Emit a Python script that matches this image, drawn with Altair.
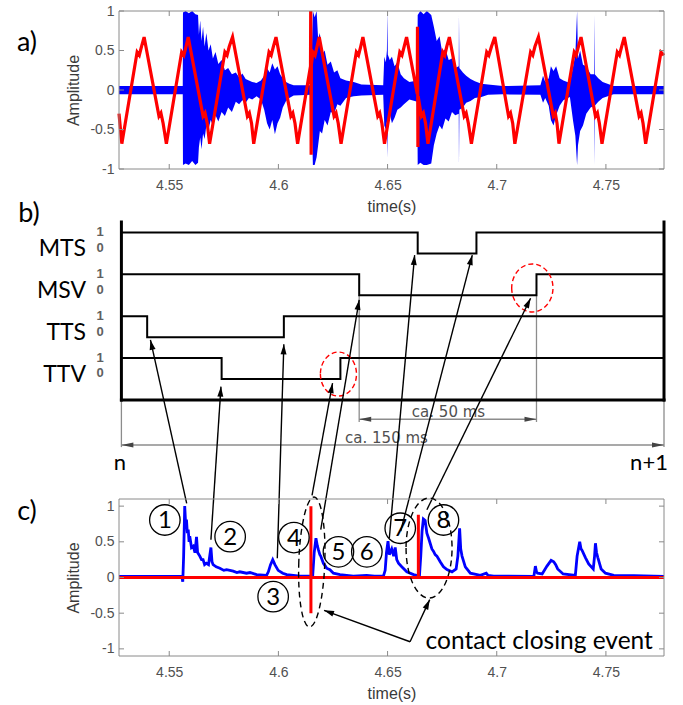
import math
import altair as alt
import pandas as pd

W, H = 683, 705

# ---------------- shared axis values ----------------
TIME_TICKS = [4.55, 4.6, 4.65, 4.7, 4.75]
AMP_TICKS = [-1, -0.5, 0, 0.5, 1]
T_RANGE = [4.527, 4.7766]

# ---------------- panel a : red reference wave (t, value) ----------------
A_RED = [
    (4.5270, -0.30), (4.5283, -0.68),
    (4.5353, 0.48), (4.5363, 0.44), (4.5373, 0.55), (4.5385, 0.67),
    (4.5453, -0.33), (4.5462, -0.29), (4.5472, -0.42), (4.5487, -0.68),
    (4.5557, 0.48), (4.5567, 0.44), (4.5577, 0.55), (4.5587, 0.67),
    (4.5655, -0.33), (4.5664, -0.29), (4.5674, -0.42), (4.5685, -0.68),
    (4.5755, 0.48), (4.5765, 0.44), (4.5775, 0.55), (4.5790, 0.67),
    (4.5858, -0.33), (4.5867, -0.29), (4.5877, -0.42), (4.5887, -0.68),
    (4.5957, 0.48), (4.5967, 0.44), (4.5977, 0.55), (4.5989, 0.67),
    (4.6057, -0.33), (4.6066, -0.29), (4.6076, -0.42), (4.6088, -0.68),
    (4.6147, 0.30), (4.6148, 1.00), (4.6150, -0.82), (4.6151, 0.32),
    (4.6158, 0.48), (4.6168, 0.44), (4.6177, 0.55), (4.6187, 0.67),
    (4.6255, -0.33), (4.6264, -0.29), (4.6274, -0.42), (4.6287, -0.68),
    (4.6357, 0.48), (4.6367, 0.44), (4.6377, 0.55), (4.6387, 0.67),
    (4.6455, -0.33), (4.6464, -0.29), (4.6474, -0.42), (4.6486, -0.68),
    (4.6556, 0.48), (4.6566, 0.44), (4.6576, 0.55), (4.6587, 0.67),
    (4.6636, -0.05), (4.6637, 0.80), (4.6639, -0.72), (4.6640, -0.08),
    (4.6655, -0.33), (4.6664, -0.29), (4.6674, -0.42), (4.6685, -0.68),
    (4.6753, 0.48), (4.6762, 0.44), (4.6771, 0.55), (4.6783, 0.67),
    (4.6851, -0.33), (4.6860, -0.29), (4.6870, -0.42), (4.6884, -0.68),
    (4.6954, 0.48), (4.6964, 0.44), (4.6976, 0.55), (4.6991, 0.67),
    (4.7054, -0.33), (4.7063, -0.29), (4.7073, -0.42), (4.7083, -0.68),
    (4.7155, 0.48), (4.7165, 0.44), (4.7175, 0.55), (4.7191, 0.67),
    (4.7259, -0.33), (4.7268, -0.29), (4.7276, -0.42), (4.7285, -0.68),
    (4.7355, 0.48), (4.7364, 0.44), (4.7374, 0.55), (4.7386, 0.67),
    (4.7452, -0.33), (4.7461, -0.29), (4.7470, -0.42), (4.7482, -0.68),
    (4.7552, 0.48), (4.7562, 0.44), (4.7572, 0.55), (4.7584, 0.67),
    (4.7652, -0.33), (4.7661, -0.29), (4.7670, -0.42), (4.7682, -0.68),
    (4.7752, 0.48), (4.7766, 0.44),
]

# ---------------- panel a : blue vibration envelope (t, upper, lower) ----------------
A_BLUE = [
    (4.5270, 0.05, -0.055), (4.5562, 0.05, -0.055), (4.5563, 0.98, -0.95),
    (4.5575, 1.00, -0.93), (4.5590, 0.97, -0.95), (4.5605, 1.00, -0.90),
    (4.5620, 0.96, -0.95), (4.5632, 0.95, -0.92), (4.5636, 0.70, -0.72),
    (4.5642, 0.88, -0.60), (4.5648, 0.62, -0.75), (4.5655, 0.80, -0.55),
    (4.5662, 0.55, -0.62), (4.5670, 0.72, -0.45), (4.5680, 0.50, -0.50),
    (4.5690, 0.58, -0.38), (4.5700, 0.40, -0.45), (4.5712, 0.48, -0.32),
    (4.5725, 0.33, -0.40), (4.5740, 0.38, -0.28), (4.5755, 0.25, -0.33),
    (4.5770, 0.28, -0.22), (4.5787, 0.20, -0.28), (4.5805, 0.22, -0.15),
    (4.5820, 0.16, -0.18), (4.5835, 0.21, -0.13), (4.5850, 0.14, -0.16),
    (4.5865, 0.12, -0.10), (4.5880, 0.10, -0.12), (4.5900, 0.09, -0.08),
    (4.5920, 0.12, -0.12), (4.5935, 0.18, -0.25), (4.5948, 0.28, -0.42),
    (4.5960, 0.22, -0.50), (4.5972, 0.34, -0.38), (4.5984, 0.26, -0.56),
    (4.5996, 0.30, -0.42), (4.6008, 0.20, -0.35), (4.6020, 0.15, -0.22),
    (4.6035, 0.10, -0.14), (4.6050, 0.08, -0.10), (4.6070, 0.06, -0.07),
    (4.6150, 0.06, -0.06), (4.6155, 0.70, -0.60), (4.6158, 1.00, -0.95),
    (4.6166, 0.92, -0.95), (4.6175, 1.00, -0.85), (4.6182, 0.65, -0.70),
    (4.6190, 0.72, -0.52), (4.6200, 0.45, -0.55), (4.6212, 0.50, -0.38),
    (4.6225, 0.32, -0.45), (4.6240, 0.36, -0.28), (4.6255, 0.22, -0.30),
    (4.6270, 0.25, -0.18), (4.6284, 0.15, -0.20), (4.6310, 0.12, -0.10),
    (4.6345, 0.10, -0.08), (4.6380, 0.07, -0.07), (4.6480, 0.06, -0.06),
    (4.6485, 0.42, -0.45), (4.6492, 0.35, -0.50), (4.6497, 0.50, -0.40),
    (4.6499, 1.00, -0.85), (4.6501, 0.45, -0.48), (4.6510, 0.38, -0.30),
    (4.6520, 0.42, -0.42), (4.6532, 0.30, -0.35), (4.6545, 0.35, -0.25),
    (4.6560, 0.20, -0.22), (4.6575, 0.15, -0.18), (4.6600, 0.10, -0.12),
    (4.6636, 0.12, -0.15), (4.6638, 0.95, -0.95), (4.6650, 1.00, -0.92),
    (4.6665, 0.96, -0.95), (4.6680, 1.00, -0.95), (4.6700, 0.95, -0.93),
    (4.6712, 0.80, -0.70), (4.6725, 0.62, -0.55), (4.6738, 0.68, -0.45),
    (4.6750, 0.48, -0.50), (4.6765, 0.52, -0.36), (4.6780, 0.38, -0.40),
    (4.6795, 0.40, -0.28), (4.6810, 0.28, -0.32), (4.6826, 0.30, -0.30),
    (4.6827, 0.95, -0.95), (4.6829, 0.28, -0.25), (4.6845, 0.22, -0.22),
    (4.6860, 0.18, -0.16), (4.6880, 0.14, -0.14), (4.6900, 0.11, -0.10),
    (4.6930, 0.08, -0.09), (4.6960, 0.07, -0.06), (4.7028, 0.05, -0.055),
    (4.7200, 0.06, -0.06), (4.7212, 0.18, -0.16), (4.7222, 0.10, -0.10),
    (4.7238, 0.15, -0.20), (4.7248, 0.30, -0.38), (4.7260, 0.24, -0.45),
    (4.7272, 0.30, -0.32), (4.7288, 0.15, -0.20), (4.7305, 0.12, -0.13),
    (4.7335, 0.09, -0.09), (4.7350, 0.30, -0.40), (4.7360, 0.45, -0.58),
    (4.7368, 1.00, -0.95), (4.7372, 0.40, -0.70), (4.7382, 0.50, -0.52),
    (4.7395, 0.32, -0.45), (4.7410, 0.30, -0.30), (4.7430, 0.20, -0.22),
    (4.7446, 0.20, -0.20), (4.7447, 0.95, -0.95), (4.7449, 0.20, -0.20),
    (4.7465, 0.15, -0.15), (4.7485, 0.10, -0.10), (4.7535, 0.05, -0.055),
    (4.7766, 0.05, -0.055),
]

# ---------------- panel b : timing diagram ----------------
SIG_NAMES = ["MTS", "MSV", "TTS", "TTV"]
SIG_LOW = [7, 5, 3, 1]                       # level "0"; level "1" is one unit higher
SIG_FALL = [4.6638, 4.6370, 4.5399, 4.5740]  # 1 -> 0 edge (s)
SIG_RISE = [4.6907, 4.7182, 4.6025, 4.6284]  # 0 -> 1 edge (s)
B_EDGES = [4.5281, 4.7766]                   # cycle n ... n+1
B_TOP = 8.5
SPAN50 = [4.6370, 4.7182]
SPAN_TEXT = ["ca. 50 ms", "ca. 150 ms"]
SPAN_TEXT_T = [4.6779, 4.6495]
SPAN_TEXT_Y = [-0.57, -1.81]
SPAN_Y = [-0.92, -2.15]
RED_RING_T = [4.6275, 4.7163]
RED_RING_Y = [1.24, 5.35]

# arrows: start on panel c (time, amplitude) -> end on panel b (time, level units)
ARR_FROM_T = [4.5580, 4.5691, 4.5995, 4.6154, 4.6194, 4.6508, 4.6560, 4.6680]
ARR_FROM_A = [1.04, 0.53, 0.27, 1.15, 0.67, 0.55, 0.65, 0.95]
ARR_TO_T = [4.5414, 4.5737, 4.6025, 4.6248, 4.6370, 4.6624, 4.6888, 4.7155]
ARR_TO_Y = [2.87, 0.64, 2.66, 0.80, 4.78, 6.92, 6.92, 4.86]

# ---------------- panel c : acoustic envelope (t, value) ----------------
C_BLUE = [
    (4.5270, 0.015), (4.5558, 0.015), (4.5562, -0.06), (4.5566, 0.30), (4.5571, 1.00),
    (4.5576, 0.70), (4.5579, 0.81), (4.5583, 0.62), (4.5587, 0.67), (4.5591, 0.50),
    (4.5594, 0.58), (4.5602, 0.42), (4.5610, 0.44), (4.5618, 0.35), (4.5625, 0.57),
    (4.5630, 0.35), (4.5640, 0.30), (4.5648, 0.25), (4.5655, 0.25), (4.5662, 0.18),
    (4.5670, 0.20), (4.5680, 0.18), (4.5691, 0.42), (4.5696, 0.22), (4.5701, 0.18),
    (4.5715, 0.15), (4.5732, 0.13), (4.5750, 0.10), (4.5763, 0.11), (4.5793, 0.09),
    (4.5810, 0.07), (4.5823, 0.08), (4.5854, 0.06), (4.5870, 0.07), (4.5900, 0.04),
    (4.5946, 0.03), (4.5954, 0.08), (4.5964, 0.18), (4.5974, 0.25), (4.5984, 0.18),
    (4.5999, 0.10), (4.6020, 0.06), (4.6038, 0.04), (4.6099, 0.02), (4.6157, 0.02),
    (4.6164, 0.35), (4.6172, 0.55), (4.6178, 0.45), (4.6183, 0.39), (4.6190, 0.32),
    (4.6194, 0.30), (4.6206, 0.20), (4.6215, 0.16), (4.6221, 0.13), (4.6236, 0.11),
    (4.6252, 0.06), (4.6282, 0.04), (4.6343, 0.02), (4.6404, 0.03), (4.6440, 0.02),
    (4.6481, 0.02), (4.6489, 0.10), (4.6495, 0.35), (4.6502, 0.51), (4.6508, 0.32),
    (4.6519, 0.40), (4.6528, 0.30), (4.6535, 0.42), (4.6542, 0.25), (4.6550, 0.20),
    (4.6565, 0.15), (4.6588, 0.08), (4.6619, 0.04), (4.6646, 0.02), (4.6652, 0.30),
    (4.6658, 0.65), (4.6664, 0.82), (4.6672, 0.80), (4.6680, 0.62), (4.6688, 0.55),
    (4.6695, 0.48), (4.6703, 0.40), (4.6710, 0.37), (4.6718, 0.32), (4.6726, 0.30),
    (4.6741, 0.22), (4.6756, 0.15), (4.6772, 0.11), (4.6795, 0.08), (4.6814, 0.12),
    (4.6822, 0.30), (4.6830, 0.69), (4.6835, 0.40), (4.6841, 0.30), (4.6856, 0.15),
    (4.6879, 0.06), (4.6925, 0.03), (4.6952, 0.06), (4.6960, 0.03), (4.6986, 0.02),
    (4.7170, 0.015), (4.7177, 0.16), (4.7182, 0.08), (4.7187, 0.06), (4.7208, 0.05),
    (4.7230, 0.16), (4.7249, 0.24), (4.7261, 0.22), (4.7270, 0.18), (4.7279, 0.12),
    (4.7304, 0.05), (4.7360, 0.03), (4.7368, 0.30), (4.7380, 0.50), (4.7386, 0.40),
    (4.7391, 0.38), (4.7406, 0.28), (4.7421, 0.19), (4.7442, 0.12), (4.7448, 0.30),
    (4.7452, 0.48), (4.7457, 0.35), (4.7463, 0.28), (4.7478, 0.12), (4.7498, 0.06),
    (4.7536, 0.03), (4.7628, 0.025), (4.7766, 0.015),
]
C_RED = [
    (4.5270, 0.0), (4.6149, 0.0), (4.6149, 1.00), (4.6149, -0.50), (4.6149, 0.0),
    (4.6641, 0.0), (4.6641, 0.88), (4.6641, 0.0), (4.7766, 0.0),
]
MARK_LABELS = ["1", "2", "3", "4", "5", "6", "7", "8"]
MARK_T = [4.5480, 4.5779, 4.5976, 4.6071, 4.6275, 4.6405, 4.6558, 4.6756]
MARK_A = [0.806, 0.572, -0.269, 0.56, 0.36, 0.36, 0.69, 0.806]
RING_T = [4.6153, 4.6690]
RING_A = [0.217, 0.413]
EVENT_FROM_T, EVENT_FROM_A = 4.6603, -0.90
EVENT_TO_T = [4.6209, 4.6693]
EVENT_TO_A = [-0.46, -0.31]
EVENT_TEXT = "contact closing event"
EVENT_TEXT_T, EVENT_TEXT_A = 4.6674, -0.91

# ---------------- layout (pixels) ----------------
X_PX = [119, 664]
A_DOM, A_PX = [-1, 1], [169, 11]
B_DOM, B_PX = [0, 8.5], [400, 222]
C_DOM, C_PX = [-1.1, 1.1], [656, 499]
FRAME = "#8a8a8a"
BLUE, RED = "#0000ff", "#ff0000"
TXT_FONT = "Lato"
ARROW_PATH = "M0,0L-0.3,1L0.3,1Z"
DIM_ARROW_PATH = "M0,0L-0.2,1L0.2,1Z"


def ellipse_path(rx):
    return f"M {-rx} 0 A {rx} 1 0 1 0 {rx} 0 A {rx} 1 0 1 0 {-rx} 0 Z"


def lin(v, dom, rng):
    return rng[0] + (v - dom[0]) / (dom[1] - dom[0]) * (rng[1] - rng[0])


def inv(p, dom, rng):
    return dom[0] + (p - rng[0]) / (rng[1] - rng[0]) * (dom[1] - dom[0])


def heading(x0, y0, x1, y1):
    return math.degrees(math.atan2(x1 - x0, -(y1 - y0))) % 360


def sx():
    return alt.Scale(domain=T_RANGE, range=X_PX, nice=False, zero=False)


def sy(dom, rng):
    return alt.Scale(domain=dom, range=rng, nice=False, zero=False)


SA, SB, SC = (A_DOM, A_PX), (B_DOM, B_PX), (C_DOM, C_PX)


def ex(f, axis=None):
    return alt.X(f, type="quantitative", scale=sx(), axis=axis)


def ey(f, s, axis=None):
    return alt.Y(f, type="quantitative", scale=sy(*s), axis=axis)


AX = dict(grid=False, domain=False, ticks=False, tickSize=0,
          labelFont="Liberation Sans", labelFontSize=14, labelColor="#505050",
          titleFont="Liberation Sans", titleFontSize=16, titleColor="#3a3a3a",
          titleFontWeight="normal", labelExpr="'' + datum.value")

layers = []


def panel_box(s, ylo, yhi, bottom_px):
    df = pd.DataFrame({"x0": [T_RANGE[0]], "x1": [T_RANGE[1]], "y0": [ylo], "y1": [yhi]})
    xa = alt.Axis(orient="bottom", offset=bottom_px - H, values=TIME_TICKS,
                  title="time(s)", labelPadding=9, titlePadding=6, **AX)
    ya = alt.Axis(orient="left", offset=-X_PX[0], values=AMP_TICKS,
                  title="Amplitude", labelPadding=5, titlePadding=8, **AX)
    out = [alt.Chart(df).mark_rect(fillOpacity=0, stroke=FRAME, strokeWidth=1).encode(
        x=ex("x0", xa), x2="x1", y=ey("y0", s, ya), y2="y1")]
    dl = pd.DataFrame({"x": [T_RANGE[0]] * len(AMP_TICKS), "y": AMP_TICKS})
    dr = pd.DataFrame({"x": [T_RANGE[1]] * len(AMP_TICKS), "y": AMP_TICKS})
    db = pd.DataFrame({"x": TIME_TICKS, "y": [ylo] * len(TIME_TICKS)})
    dt = pd.DataFrame({"x": TIME_TICKS, "y": [yhi] * len(TIME_TICKS)})
    out.append(alt.Chart(dl).mark_rule(color=FRAME, x2Offset=5).encode(x=ex("x"), x2="x", y=ey("y", s)))
    out.append(alt.Chart(dr).mark_rule(color=FRAME, x2Offset=-5).encode(x=ex("x"), x2="x", y=ey("y", s)))
    out.append(alt.Chart(db).mark_rule(color=FRAME, y2Offset=-5).encode(x=ex("x"), y=ey("y", s), y2="y"))
    out.append(alt.Chart(dt).mark_rule(color=FRAME, y2Offset=5).encode(x=ex("x"), y=ey("y", s), y2="y"))
    return out


def ring(t, y, s, rx, height, color, dash, angle=0):
    df = pd.DataFrame({"t": [t], "y": [y]})
    return alt.Chart(df).mark_point(shape=ellipse_path(rx), size=height * height, filled=False,
                                    color=color, opacity=1, strokeWidth=1.4, strokeDash=dash,
                                    angle=angle).encode(x=ex("t"), y=ey("y", s))


def label(text, x, y, size, **kw):
    df = pd.DataFrame({"s": [text]})
    return alt.Chart(df).mark_text(text=text, x=x, y=y, fontSize=size, font=TXT_FONT,
                                   color="black", align="center", baseline="middle", **kw)


# ===== panel a =====
df_ab = pd.DataFrame(A_BLUE, columns=["t", "up", "lo"])
layers.append(alt.Chart(df_ab).mark_area(color=BLUE, opacity=1).encode(
    x=ex("t"), y=ey("up", SA), y2="lo"))
df_ar = pd.DataFrame(A_RED, columns=["t", "v"])
df_ar["i"] = range(len(df_ar))
layers.append(alt.Chart(df_ar).mark_line(color=RED, strokeWidth=3.2).encode(
    x=ex("t"), y=ey("v", SA), order="i:Q"))
layers += panel_box(SA, A_DOM[0], A_DOM[1], A_PX[0])

# ===== panel b =====
rows = []
for n, lo, f, r in zip(SIG_NAMES, SIG_LOW, SIG_FALL, SIG_RISE):
    hi = lo + 1
    for k, (t, y) in enumerate([(B_EDGES[0], hi), (f, hi), (f, lo), (r, lo), (r, hi), (B_EDGES[1], hi)]):
        rows.append({"sig": n, "k": k, "t": t, "y": y})
df_sig = pd.DataFrame(rows)

# thin grey dimension lines
df_dim = pd.DataFrame({
    "t0": [SPAN50[0], SPAN50[1], B_EDGES[0], B_EDGES[1], SPAN50[0], B_EDGES[0]],
    "t1": [SPAN50[0], SPAN50[1], B_EDGES[0], B_EDGES[1], SPAN50[1], B_EDGES[1]],
    "y0": [SIG_LOW[1], SIG_LOW[1], 0, 0, SPAN_Y[0], SPAN_Y[1]],
    "y1": [SPAN_Y[0] - 0.13, SPAN_Y[0] - 0.13, SPAN_Y[1] - 0.1, SPAN_Y[1] - 0.1, SPAN_Y[0], SPAN_Y[1]],
})
layers.append(alt.Chart(df_dim).mark_rule(color="#8c8c8c", strokeWidth=1.3).encode(
    x=ex("t0"), x2="t1", y=ey("y0", SB), y2="y1"))
df_dimhead = pd.DataFrame({
    "t": [SPAN50[0], SPAN50[1], B_EDGES[0], B_EDGES[1]],
    "y": [SPAN_Y[0], SPAN_Y[0], SPAN_Y[1], SPAN_Y[1]],
    "ang": [270, 90, 270, 90],
})
layers.append(alt.Chart(df_dimhead).mark_point(shape=DIM_ARROW_PATH, size=576, filled=True,
                                               color="#444444", opacity=1, strokeWidth=0).encode(
    x=ex("t"), y=ey("y", SB), angle=alt.Angle("ang:Q", scale=None)))
df_spantext = pd.DataFrame({"t": SPAN_TEXT_T, "y": SPAN_TEXT_Y, "s": SPAN_TEXT})
layers.append(alt.Chart(df_spantext).mark_text(font="DejaVu Sans", fontSize=15, color="#505050",
                                               baseline="middle").encode(
    x=ex("t"), y=ey("y", SB), text="s:N"))

layers.append(alt.Chart(df_sig).mark_line(color="black", strokeWidth=2).encode(
    x=ex("t"), y=ey("y", SB), detail="sig:N", order="k:Q"))
df_border = pd.DataFrame({"t0": [B_EDGES[0], B_EDGES[1], B_EDGES[0]],
                          "t1": [B_EDGES[0], B_EDGES[1], B_EDGES[1]],
                          "y0": [0, 0, 0], "y1": [B_TOP, B_TOP, 0]})
layers.append(alt.Chart(df_border).mark_rule(color="black", strokeWidth=3, strokeCap="square").encode(
    x=ex("t0"), x2="t1", y=ey("y0", SB), y2="y1"))

df_names = pd.DataFrame({"s": SIG_NAMES, "y": [lo + 0.2 for lo in SIG_LOW]})
layers.append(alt.Chart(df_names).mark_text(x=86, align="right", baseline="middle", font=TXT_FONT,
                                            fontSize=23, color="black").encode(
    y=ey("y", SB), text="s:N"))
df_lv = pd.DataFrame({"s": ["1"] * 4 + ["0"] * 4,
                      "y": [lo + 1.02 for lo in SIG_LOW] + [lo + 0.27 for lo in SIG_LOW]})
layers.append(alt.Chart(df_lv).mark_text(x=100, align="center", baseline="middle", font="Liberation Sans",
                                         fontWeight="bold", fontSize=13, color="#606060").encode(
    y=ey("y", SB), text="s:N"))

layers.append(ring(RED_RING_T[0], RED_RING_Y[0], SB, 0.82, 44, RED, [5, 3]))
layers.append(ring(RED_RING_T[1], RED_RING_Y[1], SB, 0.86, 48, RED, [5, 3]))

# arrows c -> b (expressed in panel-b units)
arr = []
for t0, a0, t1, y1 in zip(ARR_FROM_T, ARR_FROM_A, ARR_TO_T, ARR_TO_Y):
    py0 = lin(a0, C_DOM, C_PX)
    y0 = inv(py0, B_DOM, B_PX)
    ang = heading(lin(t0, T_RANGE, X_PX), py0, lin(t1, T_RANGE, X_PX), lin(y1, B_DOM, B_PX))
    arr.append({"t0": t0, "y0": y0, "t1": t1, "y1": y1, "ang": ang})
df_arr = pd.DataFrame(arr)
layers.append(alt.Chart(df_arr).mark_rule(color="black", strokeWidth=1.4).encode(
    x=ex("t0"), x2="t1", y=ey("y0", SB), y2="y1"))
layers.append(alt.Chart(df_arr).mark_point(shape=ARROW_PATH, size=400, filled=True, color="black",
                                           opacity=1, strokeWidth=0).encode(
    x=ex("t1"), y=ey("y1", SB), angle=alt.Angle("ang:Q", scale=None)))

# ===== panel c =====
df_cb = pd.DataFrame(C_BLUE, columns=["t", "v"])
layers.append(alt.Chart(df_cb).mark_line(color=BLUE, strokeWidth=2.8).encode(
    x=ex("t"), y=ey("v", SC)))
df_cr = pd.DataFrame(C_RED, columns=["t", "v"])
df_cr["i"] = range(len(df_cr))
layers.append(alt.Chart(df_cr).mark_line(color=RED, strokeWidth=3).encode(
    x=ex("t"), y=ey("v", SC), order="i:Q"))
layers += panel_box(SC, C_DOM[0], C_DOM[1], C_PX[0])

df_mk = pd.DataFrame({"t": MARK_T, "a": MARK_A, "s": MARK_LABELS})
layers.append(alt.Chart(df_mk).mark_point(shape="circle", size=930, filled=False, color="black",
                                          opacity=1, strokeWidth=1.3).encode(
    x=ex("t"), y=ey("a", SC)))
layers.append(alt.Chart(df_mk).mark_text(font=TXT_FONT, fontSize=24, color="black",
                                         baseline="middle", dy=1).encode(
    x=ex("t"), y=ey("a", SC), text="s:N"))
layers.append(ring(RING_T[0], RING_A[0], SC, 0.2, 130, "black", [6, 4], angle=2))
layers.append(ring(RING_T[1], RING_A[1], SC, 0.46, 100, "black", [6, 4]))

ev = []
for t1, a1 in zip(EVENT_TO_T, EVENT_TO_A):
    ang = heading(lin(EVENT_FROM_T, T_RANGE, X_PX), lin(EVENT_FROM_A, C_DOM, C_PX),
                  lin(t1, T_RANGE, X_PX), lin(a1, C_DOM, C_PX))
    ev.append({"t0": EVENT_FROM_T, "a0": EVENT_FROM_A, "t1": t1, "a1": a1, "ang": ang})
df_ev = pd.DataFrame(ev)
layers.append(alt.Chart(df_ev).mark_rule(color="black", strokeWidth=1.4).encode(
    x=ex("t0"), x2="t1", y=ey("a0", SC), y2="a1"))
layers.append(alt.Chart(df_ev).mark_point(shape=ARROW_PATH, size=400, filled=True, color="black",
                                          opacity=1, strokeWidth=0).encode(
    x=ex("t1"), y=ey("a1", SC), angle=alt.Angle("ang:Q", scale=None)))
df_evt = pd.DataFrame({"t": [EVENT_TEXT_T], "a": [EVENT_TEXT_A], "s": [EVENT_TEXT]})
layers.append(alt.Chart(df_evt).mark_text(font=TXT_FONT, fontSize=24.5, color="black", align="left",
                                          baseline="middle").encode(
    x=ex("t"), y=ey("a", SC), text="s:N"))

# ===== panel letters and cycle marks =====
layers.append(label("a)", 27, 43, 27))
layers.append(label("b)", 29, 214, 27))
layers.append(label("c)", 27, 512, 27))
layers.append(label("n", 120, 463, 22))
layers.append(label("n+1", 649, 463, 22))

chart = alt.layer(*layers).resolve_scale(x="independent", y="independent").properties(
    width=W, height=H, padding=0, autosize=alt.AutoSizeParams(type="none")
).configure_view(stroke="transparent")

chart.save("out.html", embed_options={"renderer": "svg", "actions": False})
